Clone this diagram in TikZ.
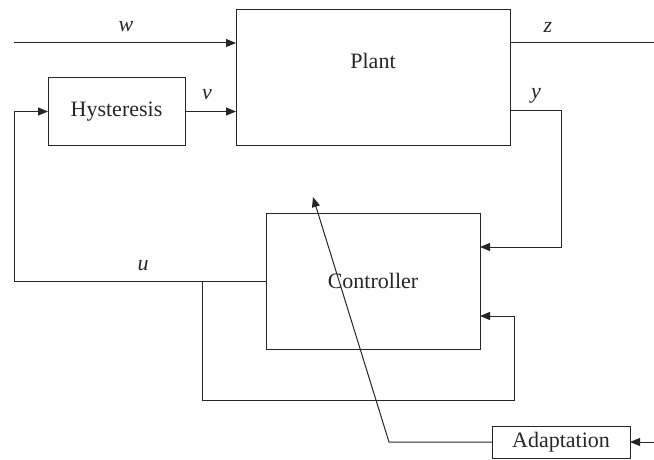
\documentclass[tikz,border=0pt]{standalone}
\usepackage{fontspec}
\setmainfont{Liberation Serif}
\usetikzlibrary{arrows.meta}
\begin{document}
\begin{tikzpicture}[x=1pt,y=-1pt,line width=1pt,color={black!85},
  blk/.style={draw,outer sep=0pt,inner sep=0pt,font=\fontsize{22}{25}\selectfont},
  lbl/.style={font=\fontsize{22}{25}\selectfont\itshape},
  arr/.style={-{Triangle[length=10pt,width=8pt]}}]
\useasboundingbox (0,0) rectangle (654,460);
% blocks
\node[blk,minimum width=274pt,minimum height=135pt] (plant) at (373,77.5) {};
\node[font=\fontsize{22}{25}\selectfont] (plantlbl) at (373,61) {Plant};
\node[blk,minimum width=137pt,minimum height=67pt] (hyst) at (116.5,111.5) {Hysteresis};
\node[blk,minimum width=214pt,minimum height=136pt] (ctrl) at (373,281) {Controller};
\node[blk,minimum width=138pt,minimum height=32pt] (adapt) at (561,442) {Adaptation};
% free ends
\coordinate (win) at (14,43);
\coordinate (zout) at (654,43);
\coordinate (adin) at (654,442);
\coordinate (ytop) at (561,111);
\coordinate (uleft) at (14,281);
\coordinate (loopA) at (202,281);
\coordinate (loopB) at (202,400);
\coordinate (loopC) at (514,316);
\coordinate (adbend) at (389,442);
\coordinate (adtip) at (313,197);
% connectors
\draw[arr] (win) -- (plant.west |- win);
\draw (plant.east |- zout) -- (zout);
\draw[arr] (hyst.east) -- (plant.west |- hyst.east);
\draw[arr] (plant.east |- ytop) -- (ytop) |- ([yshift=34pt]ctrl.east);
\draw[arr] (ctrl.west) -- (uleft) |- (hyst.west);
\draw[arr] (loopA) -- (loopB) -| (loopC) -- ([yshift=-35pt]ctrl.east);
\draw[arr] (adin) -- (adapt.east);
\draw[arr] (adapt.west) -- (adbend) -- (adtip);
% labels
\node[lbl] (lw) at (126,27) {w};
\node[lbl] (lz) at (548,27) {z};
\node[lbl] (lv) at (207,95) {v};
\node[lbl] (ly) at (536,96) {y};
\node[lbl] (lu) at (143,266) {u};
\end{tikzpicture}
\end{document}
